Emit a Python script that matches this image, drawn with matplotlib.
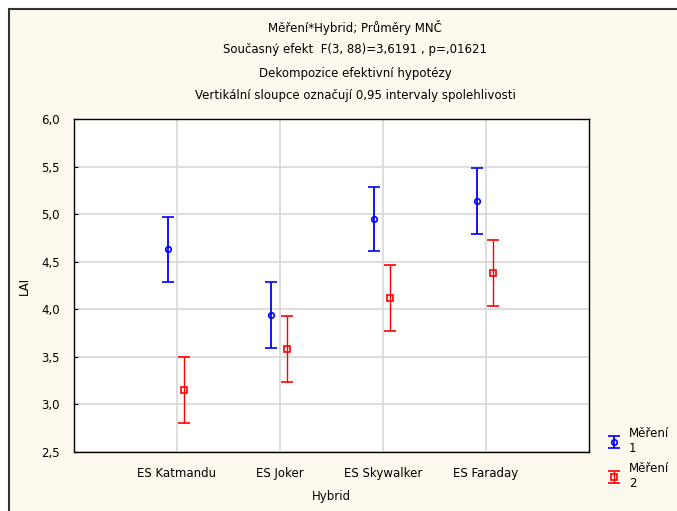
import numpy as np
from matplotlib import pyplot as plt
from matplotlib.patches import Rectangle

# data
hybrids = ["ES Katmandu", "ES Joker", "ES Skywalker", "ES Faraday"]
mereni1_mean = [4.63, 3.94, 4.95, 5.14]
mereni1_ci = [0.34, 0.345, 0.34, 0.345]
mereni2_mean = [3.15, 3.58, 4.12, 4.38]
mereni2_ci = [0.345, 0.345, 0.345, 0.345]
yticks = [2.5, 3.0, 3.5, 4.0, 4.5, 5.0, 5.5, 6.0]

titles = ["Měření*Hybrid; Průměry MNČ",
          "Současný efekt  F(3, 88)=3,6191 , p=,01621",
          "Dekompozice efektivní hypotézy",
          "Vertikální sloupce označují 0,95 intervaly spolehlivosti"]

cream = "#fef9ef"
fs = 8.5
fig = plt.figure(figsize=(6.77, 5.11), dpi=100)
fig.patch.set_facecolor("white")
# cream page with dark frame, running off the right and bottom edges
fig.patches.append(Rectangle((9 / 677, -0.1), 1.2, 1.1 - 9 / 511, transform=fig.transFigure,
                             facecolor=cream, edgecolor="#333333", linewidth=1.5, zorder=-1))

ax = fig.add_axes([74 / 677, 1 - 452 / 511, (589 - 74) / 677, (452 - 119) / 511])
ax.set_facecolor("white")

x = np.arange(len(hybrids))
ax.errorbar(x - 0.085, mereni1_mean, yerr=mereni1_ci, fmt="o", color="blue",
            mfc="none", ms=4, mew=1.2, capsize=4.5, elinewidth=1.3, capthick=1.3,
            label="Měření\n1", zorder=3)
ax.errorbar(x + 0.07, mereni2_mean, yerr=mereni2_ci, fmt="s", color="red",
            mfc="none", ms=5, mew=1.2, capsize=4.5, elinewidth=1.0, capthick=1.0,
            label="Měření\n2", zorder=3)

ax.set_xlim(-1, 4)
ax.set_ylim(2.5, 6.0)
ax.set_xticks(x)
ax.set_xticklabels(hybrids, fontsize=fs)
ax.set_yticks(yticks)
ax.set_yticklabels([f"{v:.1f}".replace(".", ",") for v in yticks], fontsize=fs)
ax.tick_params(axis="x", length=0, pad=11)
ax.tick_params(axis="y", direction="in", length=3, pad=10)
ax.grid(True, color="#d8d8d8", linewidth=1.2)
ax.set_axisbelow(True)
for s in ax.spines.values():
    s.set_color("black")
    s.set_linewidth(1.0)

ax.set_xlabel("Hybrid", fontsize=fs, labelpad=7)
ax.set_ylabel("LAI", fontsize=fs, labelpad=8)

for i, t in enumerate(titles):
    fig.text(355 / 677, 1 - (27 + i * 23) / 511, t, ha="center", va="center", fontsize=fs)

fig.legend(loc="upper left", bbox_to_anchor=(596 / 677, 1 - 421 / 511), frameon=False,
           fontsize=fs, handlelength=2.0, labelspacing=0.6, handletextpad=0.3,
           borderpad=0)

fig.savefig("out.png", dpi=100, facecolor=fig.get_facecolor())
